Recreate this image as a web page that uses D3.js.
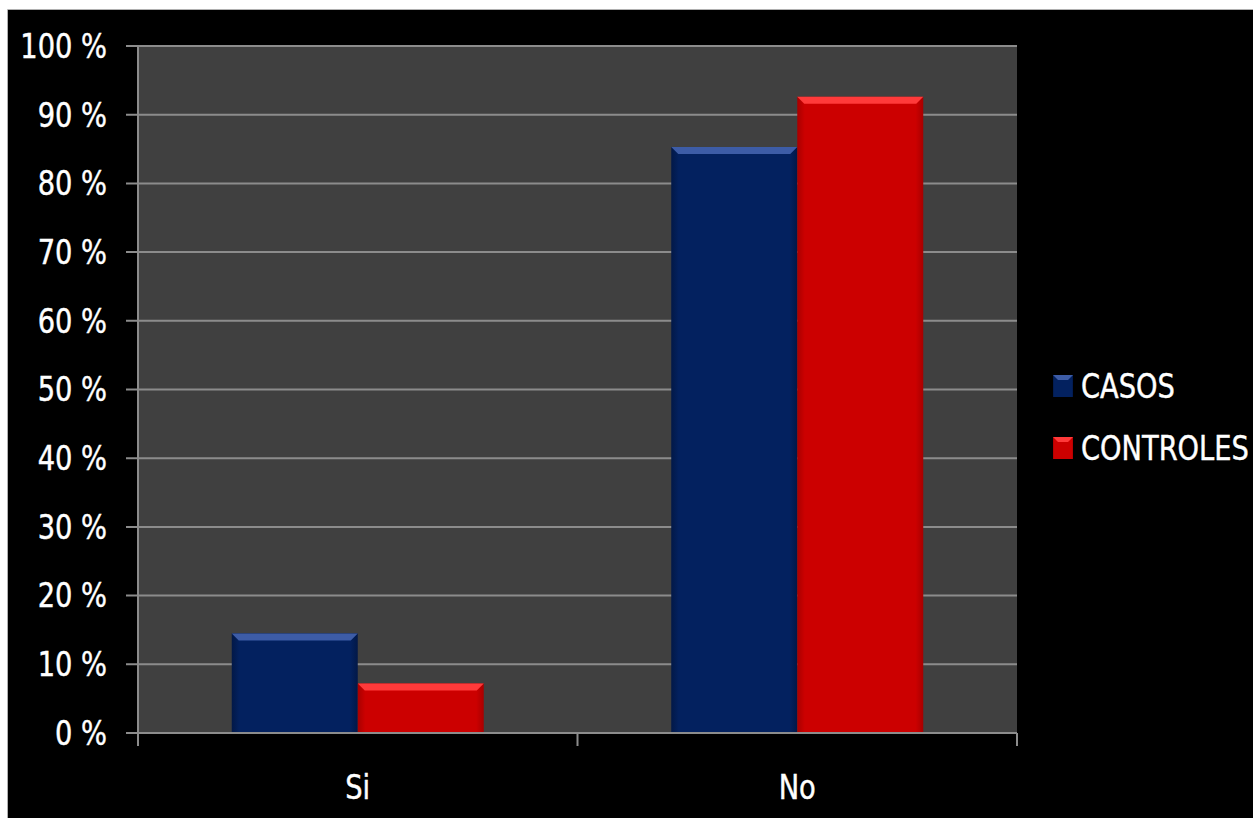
<!DOCTYPE html>
<html>
<head>
<meta charset="utf-8">
<script src="https://cdn.jsdelivr.net/npm/d3@7"></script>
<style>
  html, body { margin: 0; padding: 0; background: #fff; }
  svg text { font-family: "Liberation Sans Narrow", "DejaVu Sans Condensed", sans-serif; fill: #fff; stroke: #fff; stroke-width: 0.4; }
</style>
</head>
<body>
<div id="chart"></div>
<script>
const categories = ['Si', 'No'];
const seriesNames = ['CASOS', 'CONTROLES'];
const casos = [14.5, 85.3];
const controles = [7.2, 92.6];
const yTicks = [0, 10, 20, 30, 40, 50, 60, 70, 80, 90, 100];

const W = 1253, H = 818;
const margin = { top: 46, right: 236, bottom: 85, left: 138 };
const colors = {
  CASOS: { base: '#03215f', edge: '#021847', top: '#3d5ca6' },
  CONTROLES: { base: '#cc0000', edge: '#a80000', top: '#ff3a3a' }
};
const FS = 33;
const SX = 0.92; // squeeze text horizontally, source font is narrow

const svg = d3.select('#chart').append('svg')
  .attr('width', W).attr('height', H);

const defs = svg.append('defs');
seriesNames.forEach((s) => {
  const g = defs.append('linearGradient').attr('id', 'grad-' + s)
    .attr('x1', 0).attr('x2', 1).attr('y1', 0).attr('y2', 0);
  g.append('stop').attr('offset', '0%').attr('stop-color', colors[s].edge);
  g.append('stop').attr('offset', '6%').attr('stop-color', colors[s].base);
  g.append('stop').attr('offset', '94%').attr('stop-color', colors[s].base);
  g.append('stop').attr('offset', '100%').attr('stop-color', colors[s].edge);
});

function label(sel, tx, ty) {
  return sel.append('text')
    .attr('transform', `translate(${tx},${ty}) scale(${SX},1)`)
    .attr('dy', '0.36em')
    .attr('font-size', FS);
}

// black chart frame
svg.append('rect')
  .attr('x', 8).attr('y', 10).attr('width', W - 8).attr('height', H - 10)
  .attr('fill', '#000');
svg.append('path').attr('d', `M7.5,${H}V9.5H${W}`)
  .attr('fill', 'none').attr('stroke', '#b0b0b0');

const x0 = margin.left, x1 = W - margin.right;
const yTop = margin.top, yBot = H - margin.bottom;

const x = d3.scaleBand().domain(categories).range([x0, x1])
  .paddingInner(0.4266).paddingOuter(0.2133);
const xs = d3.scaleBand().domain(seriesNames).range([0, x.bandwidth()]);
const y = d3.scaleLinear().domain([0, 100]).range([yBot, yTop]);

// plot background
svg.append('rect')
  .attr('x', x0).attr('y', yTop).attr('width', x1 - x0).attr('height', yBot - yTop)
  .attr('fill', '#404040');

// gridlines + y ticks
const grid = svg.append('g');
grid.selectAll('line').data(yTicks.filter(d => d > 0)).enter().append('line')
  .attr('x1', x0 - 12).attr('x2', x1)
  .attr('y1', d => y(d)).attr('y2', d => y(d))
  .attr('stroke', '#8c8c8c').attr('stroke-width', 2);

const yl = svg.append('g');
yTicks.forEach((d) => {
  label(yl, x0 - 31, y(d))
    .attr('text-anchor', 'end')
    .text(d + ' %');
});

// bars
const rows = categories.map((c, i) => ({ cat: c, values: [casos[i], controles[i]] }));
const bevel = 7;
const barG = svg.append('g');
rows.forEach((r) => {
  r.values.forEach((v, j) => {
    const s = seriesNames[j];
    const bx = x(r.cat) + xs(s), bw = xs.bandwidth();
    const by = y(v), bh = y(0) - y(v);
    barG.append('rect')
      .attr('x', bx).attr('y', by).attr('width', bw).attr('height', bh)
      .attr('fill', 'url(#grad-' + s + ')');
    barG.append('path')
      .attr('d', `M${bx},${by}L${bx + bw},${by}L${bx + bw - bevel},${by + bevel}L${bx + bevel},${by + bevel}Z`)
      .attr('fill', colors[s].top);
  });
});

// axes lines
const ax = svg.append('g').attr('stroke', '#8c8c8c').attr('stroke-width', 2);
ax.append('line').attr('x1', x0).attr('x2', x0).attr('y1', yTop).attr('y2', yBot + 13);
ax.append('line').attr('x1', x0 - 12).attr('x2', x1).attr('y1', yBot).attr('y2', yBot);
const catEdges = [x0, x0 + x.step(), x1];
ax.selectAll('.ct').data(catEdges).enter().append('line')
  .attr('x1', d => d).attr('x2', d => d).attr('y1', yBot).attr('y2', yBot + 13);

// category labels
const xl = svg.append('g');
categories.forEach((d) => {
  label(xl, x(d) + x.bandwidth() / 2, yBot + 54)
    .attr('text-anchor', 'middle')
    .text(d);
});

// legend
const legend = svg.append('g');
seriesNames.forEach((s, i) => {
  const ly = 386 + i * 62;
  legend.append('rect')
    .attr('x', 1053).attr('y', ly - 11).attr('width', 20).attr('height', 22)
    .attr('fill', 'url(#grad-' + s + ')');
  legend.append('path')
    .attr('d', `M1053,${ly - 11}L1073,${ly - 11}L1068,${ly - 6}L1058,${ly - 6}Z`)
    .attr('fill', colors[s].top);
  label(legend, 1081, ly)
    .text(s);
});
</script>
</body>
</html>
